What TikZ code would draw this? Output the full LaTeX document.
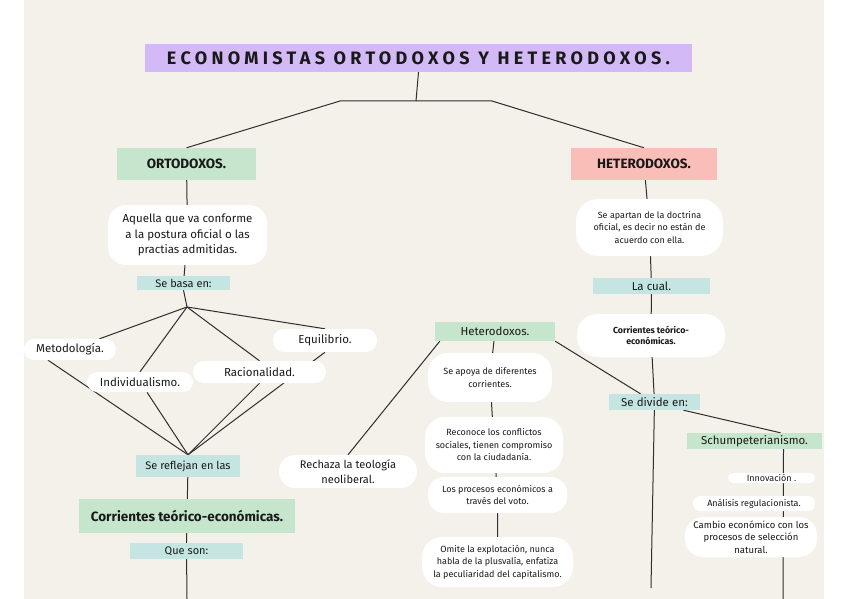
\documentclass[tikz,border=0pt]{standalone}
\usepackage{fontspec}
\setmainfont{Fira Sans}
\newfontfamily\titlefont[LetterSpace=24]{Fira Sans}
\usetikzlibrary{positioning, backgrounds}

\definecolor{paper}{HTML}{F4F0EA}
\definecolor{lila}{HTML}{D4B9F7}
\definecolor{verde}{HTML}{C5E6CC}
\definecolor{rosa}{HTML}{F8BEB7}
\definecolor{celeste}{HTML}{C4E5E2}
\definecolor{tinta}{HTML}{2E2E2E}

\begin{document}
\begin{tikzpicture}[x=1pt, y=-1pt,
    every node/.style={text=black!90, inner sep=0pt, align=center},
    tag/.style={rectangle, fill=celeste, font=\fontsize{11}{13}\selectfont},
    cat/.style={rectangle, fill=verde, font=\fontsize{11.5}{13}\selectfont},
    bubble/.style={rectangle, fill=white, rounded corners=#1},
    bubble/.default=10pt,
    big/.style={font=\fontsize{11.5}{15.5}\selectfont},
    small/.style={font=\fontsize{9}{12.5}\selectfont},
    link/.style={draw=tinta, line width=1pt}]

    \useasboundingbox (0,0) rectangle (848,599);

    \node[rectangle, fill=lila, minimum width=547pt, minimum height=28pt,
          font=\titlefont\fontsize{18}{20}\selectfont\bfseries] (title) at (418.5,58) {ECONOMISTAS ORTODOXOS Y HETERODOXOS.};
    \node[cat, minimum width=139pt, minimum height=32pt, font=\fontsize{13.5}{15}\selectfont\bfseries] (orto) at (186.5,164) {ORTODOXOS.};
    \node[cat, fill=rosa, minimum width=146pt, minimum height=32pt, font=\fontsize{13.5}{15}\selectfont\bfseries] (hetero) at (644,164) {HETERODOXOS.};

    \node[bubble=18pt, big, minimum width=159pt, minimum height=60pt] (aquella) at (187.5,235) {Aquella que va conforme\\a la postura oficial o las\\practias admitidas.};
    \node[tag, minimum width=93pt, minimum height=14pt] (basa) at (183.5,283) {Se basa en:};
    \coordinate (hub) at (187,307);
    \node[bubble, big, minimum width=92pt, minimum height=21pt] (metod) at (70,349.5) {Metodología.};
    \node[bubble, big, minimum width=106pt, minimum height=20pt] (indiv) at (140,382) {Individualismo.};
    \node[bubble=11pt, big, minimum width=133pt, minimum height=22pt] (racio) at (259.5,372) {Racionalidad.};
    \node[bubble=11pt, big, minimum width=104pt, minimum height=23pt] (equi) at (325,340.5) {Equilibrio.};
    \node[tag, minimum width=104pt, minimum height=22pt] (refl) at (188,466) {Se reflejan en las};
    \node[cat, minimum width=216pt, minimum height=34pt, font=\fontsize{13.5}{15}\selectfont\bfseries] (corr) at (187,516) {Corrientes teórico-económicas.};
    \node[tag, minimum width=113pt, minimum height=16pt] (queson) at (186.5,551) {Que son:};
    \coordinate (ortoend) at (187,599);

    \node[bubble=16pt, font=\fontsize{11}{15}\selectfont, minimum width=138pt, minimum height=33pt] (rech) at (348,471.5) {Rechaza la teología\\neoliberal.};
    \node[cat, minimum width=120pt, minimum height=19pt] (hetmid) at (495,331.5) {Heterodoxos.};
    \node[bubble=20pt, small, minimum width=124pt, minimum height=49pt] (apoya) at (490,377.5) {Se apoya de diferentes\\corrientes.};
    \node[bubble=20pt, small, minimum width=138pt, minimum height=56pt] (recon) at (494,445) {Reconoce los conflictos\\sociales, tienen compromiso\\con la ciudadanía.};
    \node[bubble=16pt, small, minimum width=139pt, minimum height=36pt] (procs) at (497.5,495) {Los procesos económicos a\\través del voto.};
    \node[bubble=20pt, small, minimum width=151pt, minimum height=50pt] (omite) at (497.5,562) {Omite la explotación, nunca\\habla de la plusvalía, enfatiza\\la peculiaridad del capitalismo.};

    \node[bubble=22pt, small, minimum width=147pt, minimum height=57pt] (apartan) at (649.5,227.5) {Se apartan de la doctrina\\oficial, es decir no están de\\acuerdo con ella.};
    \node[tag, font=\fontsize{11.5}{13}\selectfont, minimum width=117pt, minimum height=16pt] (cual) at (651.5,286) {La cual.};
    \node[bubble=20pt, font=\fontsize{8.8}{11.5}\selectfont\bfseries, minimum width=148pt, minimum height=43pt] (corrr) at (651,335.5) {Corrientes teórico-\\económicas.};
    \node[tag, font=\fontsize{11.5}{13}\selectfont, minimum width=91pt, minimum height=16pt] (divide) at (654.5,402) {Se divide en:};
    \coordinate (hetend) at (651,588);
    \node[cat, minimum width=135pt, minimum height=16pt] (schump) at (754.5,441) {Schumpeterianismo.};
    \node[bubble=5pt, small, minimum width=87pt, minimum height=10pt] (innov) at (771.5,478) {Innovación .};
    \node[bubble=7pt, small, minimum width=122pt, minimum height=15pt] (anal) at (754,503.5) {Análisis regulacionista.};
    \node[bubble=18pt, font=\fontsize{9.5}{12.5}\selectfont, minimum width=132pt, minimum height=40pt] (cambio) at (751,537) {Cambio económico con los\\procesos de selección\\natural.};
    \coordinate (schend) at (783,599);

    \begin{scope}[on background layer]
        \fill[paper] (24,0) rectangle (824,599);
        \coordinate (split) at (416,101);
        \coordinate (lsplit) at (340,101);
        \coordinate (rsplit) at (492,101);
        \draw[link] (title.south) -- (split);
        \draw[link] (orto.north) -- (lsplit) -- (rsplit) -- (hetero.north);

        \draw[link] (orto) -- (aquella);
        \draw[link] (aquella) -- (basa);
        \draw[link] (basa.south) -- (hub);
        \draw[link] (hub) -- (metod);
        \draw[link] (hub) -- (indiv.north);
        \draw[link] (hub) -- (racio.north);
        \draw[link] (hub) -- (equi.north);
        \draw[link] ([xshift=-22pt]metod.south) -- (refl.north);
        \draw[link] ([xshift=7pt]indiv.south) -- (refl.north);
        \draw[link] (racio.south) -- (refl.north);
        \draw[link] (equi.south) -- (refl.north);
        \draw[link] (refl) -- (corr);
        \draw[link] (corr) -- (queson);
        \draw[link] (queson) -- (ortoend);

        \draw[link] (rech.north) -- ([xshift=5pt]hetmid.south west);
        \draw[link] (hetmid) -- (apoya) -- (recon) -- (procs) -- (omite);
        \draw[link] (hetmid.south east) -- ([xshift=-14pt]divide.north);

        \draw[link] (hetero) -- (apartan) -- (cual) -- (corrr) -- (divide);
        \draw[link] (divide) -- (hetend);
        \draw[link] ([xshift=29pt]divide.south) -- ([xshift=26pt]schump.north);
        \draw[link] ([xshift=29pt]schump.south) -- (schend);
    \end{scope}
\end{tikzpicture}
\end{document}
